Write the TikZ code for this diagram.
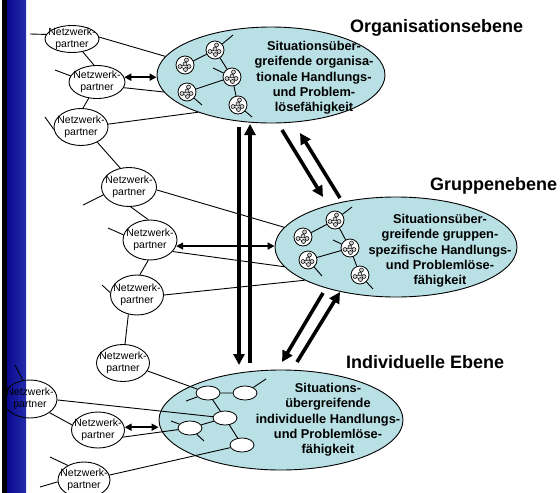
\documentclass[tikz,border=0pt]{standalone}
\usepackage{fontspec}
\setmainfont{Liberation Sans}
\usetikzlibrary{shapes.geometric,arrows.meta,calc}
\definecolor{ellfill}{RGB}{185,224,228}
\definecolor{bardark}{RGB}{8,8,140}
\definecolor{barlight}{RGB}{36,46,172}
\begin{document}
\begin{tikzpicture}[x=1pt,y=-1pt,
  big/.style={ellipse,draw=black,line width=0.9pt,fill=ellfill,inner sep=0pt},
  partner/.style={ellipse,draw=black,line width=0.9pt,inner sep=0pt},
  ptext/.style={align=center,font=\fontsize{10.5}{12}\selectfont,inner sep=0pt},
  etext/.style={align=center,font=\bfseries\fontsize{12.8}{15.3}\selectfont,inner sep=0pt},
  level/.style={anchor=base west,font=\bfseries\fontsize{18}{21}\selectfont,inner sep=0pt},
  conn/.style={line width=0.9pt},
  mini/.style={circle,draw=black,line width=0.8pt,fill=white,minimum size=18pt,inner sep=0pt},
  minie/.style={ellipse,draw=black,line width=0.8pt,fill=white,minimum width=24pt,minimum height=14pt,inner sep=0pt},
  bigarrow/.style={line width=3.6pt,-{Triangle[length=11pt,width=11pt]}},
  dblarrow/.style={line width=1.8pt,{Triangle[length=7pt,width=7pt]}-{Triangle[length=7pt,width=7pt]}},
  ico/.pic={
    \draw[line width=0.5pt] (1.5,-5) -- (0,-1) -- (4,1.5) (0,-1) -- (-5,1.5) -- (0.5,4.5) -- (4,1.5);
    \foreach \q in {(1.5,-5),(0,-1),(4,1.5),(-5,1.5),(0.5,4.5)}
      \filldraw[fill=gray!40,line width=0.5pt] \q circle[radius=2pt];
  }
]
\useasboundingbox (0,0) rectangle (560,493);
% left bar
\fill[left color=bardark,right color=barlight] (7,0) rectangle (26,493);
\fill[black] (2,0) rectangle (7,493);

% big ellipses
\node[big,minimum width=228pt,minimum height=96pt] (org) at (271,75) {};
\node[big,minimum width=242pt,minimum height=100pt] (grp) at (396,247) {};
\node[big,minimum width=244pt,minimum height=100pt] (ind) at (281,420) {};

\node[etext] (orgt) at (314,78) {Situationsüber-\\greifende organisa-\\tionale Handlungs-\\und Problem-\\lösefähigkeit};
\node[etext] (grpt) at (440,251) {Situationsüber-\\greifende gruppen-\\spezifische Handlungs-\\und Problemlöse-\\fähigkeit};
\node[etext] (indt) at (328,420) {Situations-\\übergreifende\\individuelle Handlungs-\\und Problemlöse-\\fähigkeit};

\node[level] (lo) at (350,32) {Organisationsebene};
\node[level] (lg) at (430,190) {Gruppenebene};
\node[level] (li) at (346,368) {Individuelle Ebene};

% partners
\foreach \n/\x/\y/\w/\h in {1/72/39/54/27, 2/97/82/56/33, 3/81/127/54/37, 4/129/187/55/39, 5/150/240/54/40, 6/137/295/53/40, 7/123/363/53/37, 8/30/399/54/38, 9/98/430/53/36, 10/84/480/52/36}{
  \node[partner,minimum width=\w pt,minimum height=\h pt] (p\n) at (\x,\y) {};
  \node[ptext] (p\n t) at (p\n) {Netzwerk-\\partner};
}

% org mini network
\node[mini] (o1) at (215,50) {};
\node[mini] (o2) at (185,65) {};
\node[mini] (o3) at (232,77) {};
\node[mini] (o4) at (187,92) {};
\node[mini] (o5) at (238,105) {};
\coordinate (o1s) at (233,35);
\coordinate (o3s) at (213,68);
\coordinate (o4s) at (202,105);
\coordinate (o5s) at (252,117);
\draw[conn] (o2) -- (o1) -- (o3) -- (o4) (o3) -- (o5);
\draw[conn] (o1) -- (o1s) (o3) -- (o3s) (o4) -- (o4s) (o5) -- (o5s);

% group mini network
\node[mini] (g1) at (335,220) {};
\node[mini] (g2) at (303,237) {};
\node[mini] (g3) at (350,248) {};
\node[mini] (g4) at (308,260) {};
\node[mini] (g5) at (360,275) {};
\coordinate (g1s) at (352,207);
\coordinate (g3s) at (333,240);
\coordinate (g4s) at (322,276);
\coordinate (g5s) at (373,289);
\draw[conn] (g2) -- (g1) -- (g3) -- (g4) (g3) -- (g5);
\draw[conn] (g1) -- (g1s) (g3) -- (g3s) (g4) -- (g4s) (g5) -- (g5s);

\foreach \m in {o1,o2,o3,o4,o5,g1,g2,g3,g4,g5}
  \pic at (\m) {ico};

% individual mini network
\node[minie] (m1) at (208,393) {};
\node[minie] (m2) at (245,393) {};
\node[minie] (m3) at (225,418) {};
\node[minie] (m4) at (190,428) {};
\node[minie] (m5) at (242,445) {};
\coordinate (m2s) at (266,379);
\coordinate (m1s) at (186,401);
\coordinate (m4a) at (171,421);
\coordinate (m4b) at (204,441);
\draw[conn] (m1) -- (m2) (m1) -- (m3) -- (m4) (m3) -- (m5);
\draw[conn] (m2) -- (m2s) (m1) -- (m1s) (m4) -- (m4a) (m4) -- (m4b);

% partner connectors
\coordinate (s1) at (30,34);
\coordinate (s2) at (55,70);
\coordinate (s3) at (45,117);
\coordinate (s4) at (83,205);
\coordinate (s5) at (108,228);
\coordinate (s6) at (102,285);
\coordinate (s8) at (15,365);
\coordinate (s10a) at (50,457);
\coordinate (s10b) at (40,487);

\draw[conn] (p1.170) -- (s1);
\draw[conn] (p1.4) -- (org.170);
\draw[conn] (p1.-50) -- (p2.100);
\draw[conn] (p2.167) -- (s2);
\draw[dblarrow] (p2.10) -- (p2.10 -| org.west);
\draw[conn] (p2.-12) -- (org.189);
\draw[conn] (p2.243) -- (p3.84);
\draw[conn] (p3.185) -- (s3);
\draw[conn] (p3.6) -- (org.207);
\draw[conn] (p3.-43) -- (p4.115);
\draw[conn] (p4.197) -- (s4);
\draw[conn] (p4.-6) -- (grp.170);
\draw[conn] (p4.-85) -- (p5.95);
\draw[conn] (p5.169) -- (s5);
\draw[dblarrow] (p5.-13) -- (p5.-13 -| grp.west);
\draw[conn] (p5.-27) -- (grp.190);
\draw[conn] (p5.-95) -- (p6.82);
\draw[conn] (p6.175) -- (s6);
\draw[conn] (p6.0) -- (grp.200);
\draw[conn] (p6.246) -- (p7.84);
\draw[conn] (p7.-18) -- (m1);
\draw[conn] (p8.111) -- (s8);
\draw[conn] (p8.-2) -- (m3);
\draw[conn] (p8.-35) -- (p9.169);
\draw[dblarrow] (p9.6) -- (p9.6 -| ind.west);
\draw[conn] (p9.-16) -- (m4);
\draw[conn] (p10.138) -- (s10a);
\draw[conn] (p10.184) -- (s10b);
\draw[conn] (p10.11) -- (m5);

% big arrows between levels
\coordinate (a1s) at (239,127); \coordinate (a1e) at (239,365);
\coordinate (a2s) at (250,363); \coordinate (a2e) at (250,124);
\coordinate (a3s) at (282,130); \coordinate (a3e) at (323,197);
\coordinate (a4s) at (340,198); \coordinate (a4e) at (300,133);
\coordinate (a5s) at (323,293); \coordinate (a5e) at (282,362);
\coordinate (a6s) at (297,362); \coordinate (a6e) at (340,292);
\draw[bigarrow] (a1s) -- (a1e);
\draw[bigarrow] (a2s) -- (a2e);
\draw[bigarrow] (a3s) -- (a3e);
\draw[bigarrow] (a4s) -- (a4e);
\draw[bigarrow] (a5s) -- (a5e);
\draw[bigarrow] (a6s) -- (a6e);
\end{tikzpicture}
\end{document}
